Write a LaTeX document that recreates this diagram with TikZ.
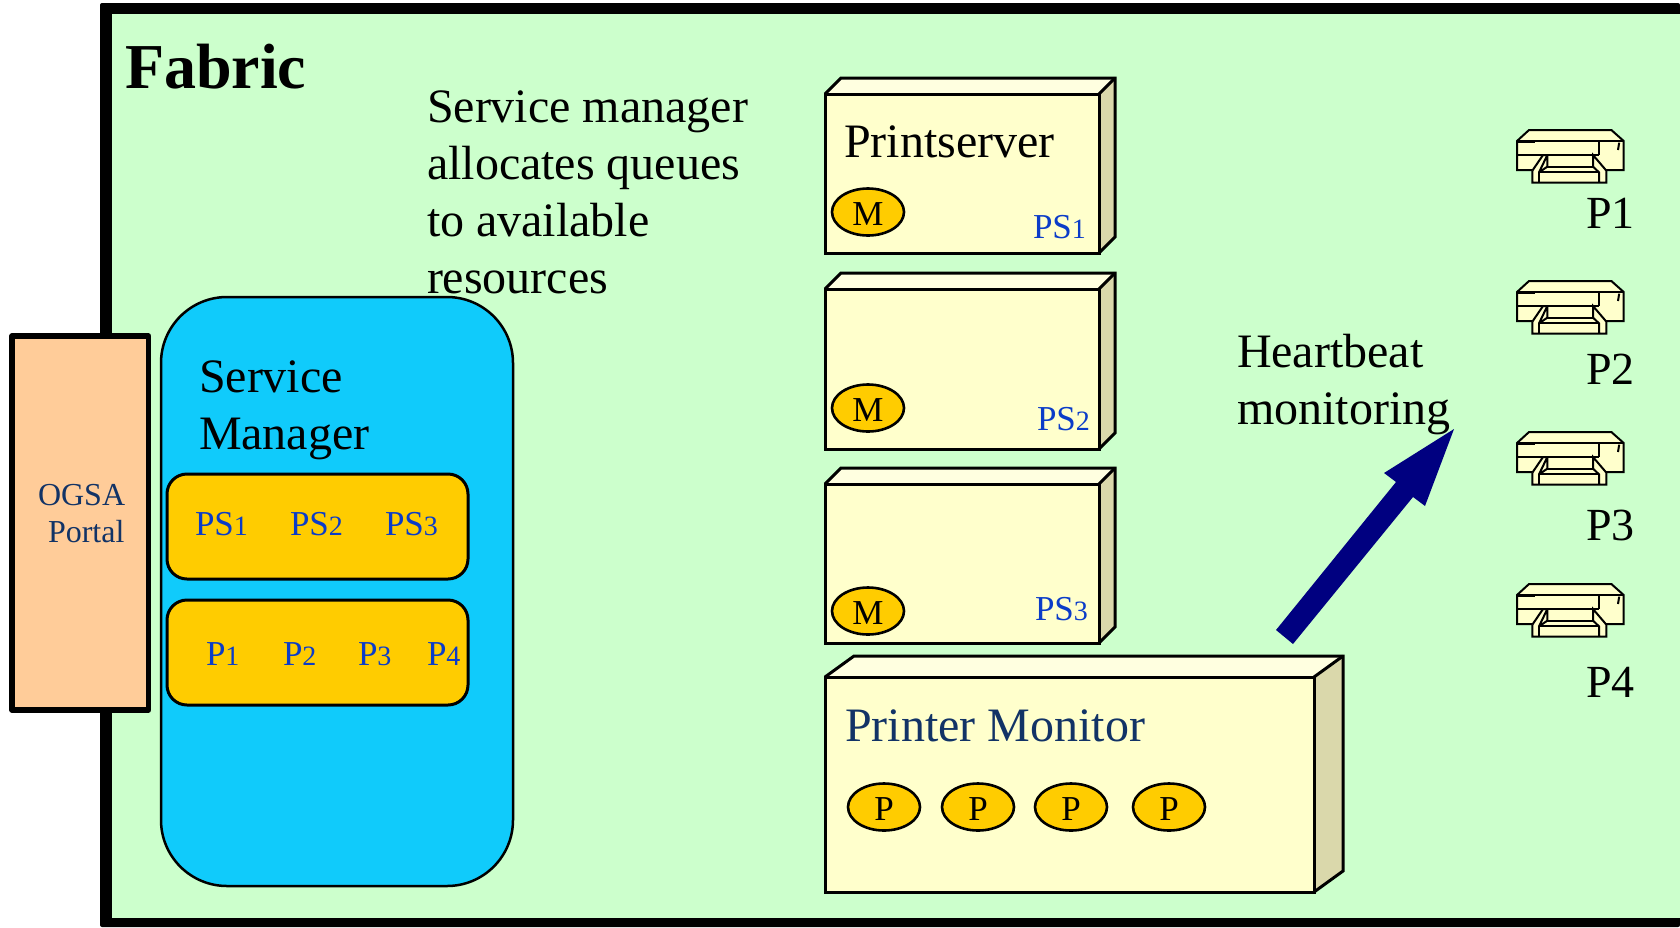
\documentclass[tikz,border=0pt]{standalone}
\usepackage{fontspec}
\usetikzlibrary{shapes.geometric}
\setmainfont{Liberation Serif}
\definecolor{fabricbg}{HTML}{CCFFCC}
\definecolor{mgrblue}{HTML}{10CBFB}
\definecolor{gold}{HTML}{FFCC00}
\definecolor{peach}{HTML}{FFCC99}
\definecolor{cream}{HTML}{FFFFCC}
\definecolor{creamtop}{HTML}{FFFFE0}
\definecolor{creamside}{HTML}{DAD8AB}
\definecolor{labblue}{HTML}{0B3CC8}
\definecolor{darkblue}{HTML}{123366}
\definecolor{arrownavy}{HTML}{000080}
\newcommand\fs[1]{\fontsize{#1}{#1}\selectfont}
\newcommand\sdig[1]{{\fontsize{28}{28}\selectfont #1}}
\newcommand\threedbox[7]{% x0 y0 x1 y1 dx dy name
  \fill[creamtop] (#1,#2) -- ++(#5,-#6) -- (#3+#5,#2-#6) -- (#3,#2) -- cycle;
  \fill[creamside] (#3,#2) -- (#3+#5,#2-#6) -- (#3+#5,#4-#6) -- (#3,#4) -- cycle;
  \node[boxface,minimum width=#3-#1,minimum height=#4-#2,anchor=north west] (#7) at (#1,#2) {};
  \draw[boxline] (#1,#2) -- (#1+#5,#2-#6) -- (#3+#5,#2-#6) -- (#3+#5,#4-#6) -- (#3,#4);
  \draw[boxline] (#3,#2) -- (#3+#5,#2-#6);
}
\tikzset{
  boxline/.style={draw=black,line width=3pt,line join=miter},
  boxface/.style={draw=black,line width=3pt,fill=cream,rectangle,inner sep=0pt,outer sep=0pt},
  txt/.style={inner sep=0pt,outer sep=0pt,anchor=base west,text=black},
  big/.style={txt,font=\fs{48}},
  lab/.style={txt,font=\fs{35},text=labblue},
  para/.style={inner sep=0pt,outer sep=0pt,anchor=north west,align=left,font=\fontsize{48}{57}\selectfont},
  tag/.style={ellipse,draw=black,line width=2.6pt,fill=gold,minimum width=72pt,minimum height=47pt,inner sep=0pt,outer sep=0pt},
  chip/.style={txt,font=\fs{35}},
  store/.style={draw=black,line width=3pt,fill=gold,rounded corners=20pt},
  printer/.pic={
    \begin{scope}[scale=1/3,line width=2pt,draw=black,line join=miter]
      \filldraw[fill=cream] (0,33) -- (36,0) -- (283,0) -- (320,33) -- (320,120) -- (0,120) -- cycle;
      \draw (0,33) -- (320,33) (0,75) -- (245,75) (245,33) -- (245,75);
      \draw[line width=2.8pt] (0,36) -- (53,36);
      \draw (303,41) -- (306,41) -- (303,60);
      \fill[cream] (46,76) -- (268,76) -- (268,158) -- (46,158) -- cycle;
      \draw (0,75) -- (245,75);
      \draw (46,122) -- (78,75) -- (91,75) -- (66,127) (91,75) -- (91,110) -- (66,127);
      \draw (46,122) -- (46,158) -- (268,158) -- (268,122) -- (228,75) -- (228,110) -- (246,127) -- (246,158);
      \draw (66,127) -- (66,158);
      \draw (91,110) -- (228,110) (66,127) -- (246,127);
    \end{scope}
  },
}
\begin{document}
\begin{tikzpicture}[x=1pt,y=-1pt]
\useasboundingbox (0,0) rectangle (1680,927);
% Fabric frame
\fill[black,rounded corners=2pt] (1680,3) -- (100,3) -- (100,927) -- (1680,927) -- cycle;
\fill[fabricbg] (112,14) rectangle (1680,918);
\node[txt,font=\fs{64}\bfseries] (fabric) at (125,88) {Fabric};
% note
\node[para] (note) at (427,91) {Service manager\\allocates queues\\to available\\resources};
% Service manager
\draw[draw=black,line width=2.5pt,fill=mgrblue,rounded corners=66pt] (161,297) rectangle (513,886);
\node[para] (mgrtext) at (199,361) {Service\\Manager};
% OGSA portal
\draw[draw=black,line width=5.5pt,fill=peach,line join=round] (12,336) rectangle (148.5,710);
\node[txt,align=left,font=\fontsize{32}{37}\selectfont,text=darkblue,anchor=north west] (portal) at (38,484) {OGSA\\\hspace*{10pt}Portal};
% queues
\draw[store] (167,474) rectangle (468,579);
\draw[store] (167,600) rectangle (468,705);
\node[lab] (qs1) at (195,535) {PS\sdig{1}};
\node[lab] (qs2) at (290,535) {PS\sdig{2}};
\node[lab] (qs3) at (385,535) {PS\sdig{3}};
\node[lab] (qp1) at (206,665) {P\sdig{1}};
\node[lab] (qp2) at (283,665) {P\sdig{2}};
\node[lab] (qp3) at (358,665) {P\sdig{3}};
\node[lab] (qp4) at (427,665) {P\sdig{4}};
% print servers
\threedbox{825}{94}{1099}{253}{16}{16}{srva}
\threedbox{825}{289}{1099}{449}{16}{16}{srvb}
\threedbox{825}{484}{1099}{643}{16}{16}{srvc}
\node[big] (srvlabel) at (844,157) {Printserver};
\node[tag] (ma) at (868,212) {};
\node[tag] (mb) at (868,408) {};
\node[tag] (mc) at (868,611) {};
\node[chip,anchor=base] at ([yshift=-13pt]ma.center) {M};
\node[chip,anchor=base] at ([yshift=-13pt]mb.center) {M};
\node[chip,anchor=base] at ([yshift=-13pt]mc.center) {M};
\node[lab] (psa) at (1033,238) {PS\sdig{1}};
\node[lab] (psb) at (1037,430) {PS\sdig{2}};
\node[lab] (psc) at (1035,620) {PS\sdig{3}};
% printer monitor
\threedbox{825}{677}{1314}{892}{29}{21}{mon}
\node[big,text=darkblue] (monlabel) at (845,741) {Printer Monitor};
\foreach \n/\cx in {a/884,b/978,c/1071,d/1169}{
  \node[tag] (p\n) at (\cx,807) {};
  \node[chip,anchor=base] at ([yshift=-13pt]p\n.center) {P};
}
% heartbeat
\node[para] (beat) at (1237,334) {Heartbeat\\monitoring};
\fill[arrownavy] (1454,429) -- (1425,506) -- (1413,497) -- (1293,644) -- (1276,630) -- (1396,482) -- (1384,473) -- cycle;
% printers
\foreach \yy/\lb/\by in {130/P1/228,281/P2/384,432/P3/540,584/P4/697}{
  \pic at (1517,\yy) {printer};
  \node[txt,font=\fs{46}] (lab\lb) at (1586,\by) {\lb};
}
\end{tikzpicture}
\end{document}
